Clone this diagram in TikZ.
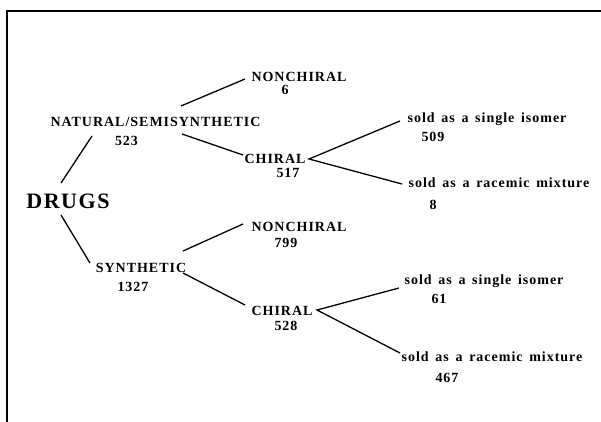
\documentclass[tikz,border=0pt]{standalone}
\usepackage{fontspec}
\setmainfont{Liberation Serif}
\newfontfamily\labfont[LetterSpace=7,WordSpace=1.5]{Liberation Serif}
\begin{document}
\begin{tikzpicture}[x=1pt,y=-1pt,
  lab/.style={font=\labfont\bfseries\fontsize{14}{14}\selectfont, inner sep=0pt, anchor=base},
  big/.style={font=\labfont\bfseries\fontsize{22}{22}\selectfont, inner sep=0pt, anchor=base},
  link/.style={line width=1.3pt},
  frame/.style={line width=1.8pt}]
\useasboundingbox (0,0) rectangle (601,422);

% open frame: top edge and left edge only
\draw[frame] (601,11) -- (7,11) -- (7,422);

% root
\node[big] (drugs) at (68,208) {DRUGS};

% first level
\node[lab] (nat)    at (155.5,127) {NATURAL/SEMISYNTHETIC};
\node[lab] (natN)   at (126.5,146) {523};
\node[lab] (syn)    at (141,272) {SYNTHETIC};
\node[lab] (synN)   at (133,291) {1327};

% second level, upper branch
\node[lab] (nonchA)  at (299,82)  {NONCHIRAL};
\node[lab] (nonchAN) at (285,95)  {6};
\node[lab] (chirA)   at (275,163) {CHIRAL};
\node[lab] (chirAN)  at (288,177) {517};

% second level, lower branch
\node[lab] (nonchB)  at (299,231) {NONCHIRAL};
\node[lab] (nonchBN) at (286,247) {799};
\node[lab] (chirB)   at (282,315) {CHIRAL};
\node[lab] (chirBN)  at (286,330) {528};

% third level
\node[lab] (isoA)  at (487,123) {sold as a single isomer};
\node[lab] (isoAN) at (433,142) {509};
\node[lab] (racA)  at (499,187) {sold as a racemic mixture};
\node[lab] (racAN) at (433,209) {8};
\node[lab] (isoB)  at (484,284) {sold as a single isomer};
\node[lab] (isoBN) at (439,303) {61};
\node[lab] (racB)  at (492,361) {sold as a racemic mixture};
\node[lab] (racBN) at (447,382) {467};

% branches
\draw[link] ([shift={(-7,-25)}]drugs.base) -- ([shift={(-63.5,9)}]nat.base);
\draw[link] ([shift={(-7,7)}]drugs.base) -- ([shift={(-51,-9)}]syn.base);

\draw[link] ([shift={(25.5,-21)}]nat.base) -- ([shift={(-54,-3)}]nonchA.base);
\draw[link] ([shift={(26.5,7)}]nat.base) -- ([shift={(-32,-8)}]chirA.base);

\draw[link] ([shift={(-87,-2)}]isoA.base) -- ([shift={(34,-4)}]chirA.base)
            -- ([shift={(-97,-3)}]racA.base);

\draw[link] ([shift={(42,-21)}]syn.base) -- ([shift={(-56,-7)}]nonchB.base);
\draw[link] ([shift={(42,1)}]syn.base) -- ([shift={(-37,-10)}]chirB.base);

\draw[link] ([shift={(-85,4)}]isoB.base) -- ([shift={(35,-5)}]chirB.base)
            -- ([shift={(-92,-8)}]racB.base);
\end{tikzpicture}
\end{document}
